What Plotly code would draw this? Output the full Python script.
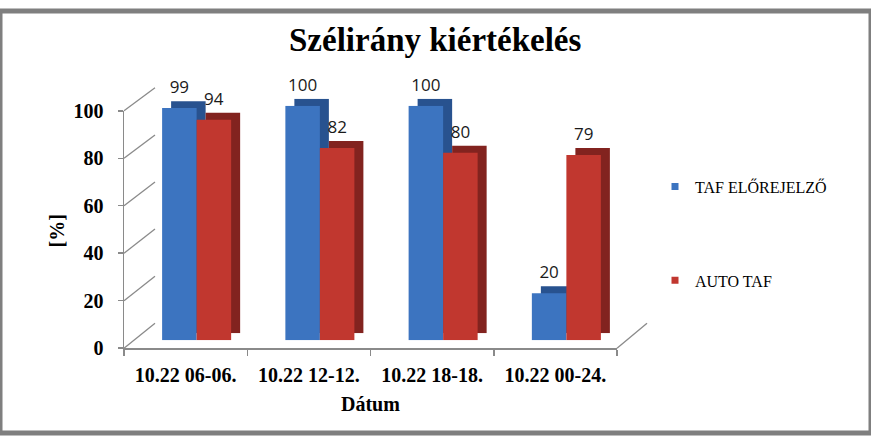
import plotly.graph_objects as go

categories = ["10.22 06-06.", "10.22 12-12.", "10.22 18-18.", "10.22 00-24."]
taf_elorejelzo = [99, 100, 100, 20]
auto_taf = [94, 82, 80, 79]
y_ticks = [0, 20, 40, 60, 80, 100]
series_names = ["TAF ELŐREJELZŐ", "AUTO TAF"]
title_text = "Szélirány kiértékelés"
x_title = "Dátum"
y_title = "[%]"

W, H = 871, 444
# effective vertical extent of the rendered paper in the screenshot
OFF_Y, H_EFF = 9, 423


def px(x):
    return x / W


def py(y):
    return 1 - (y - OFF_Y) / H_EFF


# pixel geometry of the pseudo-3D layout (x0,x1 left/right; y0 = value 0, y1 = value 100)
FRONT = (124, 617, 347, 109)   # front axes
BACK = (155, 647, 322, 86)     # back wall gridlines
BARF = (135, 628, 339, 104)    # bar front faces
BARB = (144, 637, 332, 97)     # bar depth (side/top faces)
LABL = (135, 628, 332, 97)     # value labels (above the top faces, centred on front faces)


def xdom(g):
    return [px(g[0]), px(g[1])]


def ydom(g):
    return [py(g[2]), py(g[3])]


def yval(g, v):
    return g[2] - (g[2] - g[3]) * v / 100.0


GRID = "#8a8a8a"
BLUE, BLUE_D = "#3C74C0", "#28528F"
RED, RED_D = "#C1372F", "#82231F"
SERIF = "Liberation Serif"

fig = go.Figure()

# invisible trace to define the front category axis
fig.add_trace(go.Scatter(x=categories, y=[None] * len(categories), xaxis="x", yaxis="y",
                         showlegend=False, hoverinfo="skip", mode="markers"))

# depth faces (drawn first, behind)
for vals, col in [(taf_elorejelzo, BLUE_D), (auto_taf, RED_D)]:
    fig.add_trace(go.Bar(x=categories, y=vals, xaxis="x3", yaxis="y3", marker=dict(color=col, line=dict(width=0)),
                         showlegend=False, hoverinfo="skip"))

# front faces
for i, (vals, col) in enumerate([(taf_elorejelzo, BLUE), (auto_taf, RED)]):
    fig.add_trace(go.Bar(x=categories, y=vals, xaxis="x4", yaxis="y4", name=series_names[i],
                         marker=dict(color=col, line=dict(width=0)), showlegend=False))

# value labels
for vals in [taf_elorejelzo, auto_taf]:
    fig.add_trace(go.Bar(x=categories, y=vals, xaxis="x5", yaxis="y5",
                         marker=dict(color="rgba(0,0,0,0)", line=dict(width=0)),
                         text=[str(v) for v in vals], textposition="outside", cliponaxis=False,
                         textfont=dict(family="Open Sans", size=17, color="#1a1a1a"),
                         showlegend=False, hoverinfo="skip"))

# legend entries (small square keys)
for i, col in enumerate([BLUE, RED]):
    fig.add_trace(go.Scatter(x=[None], y=[None], xaxis="x4", yaxis="y4", mode="markers", name=series_names[i],
                             marker=dict(symbol="square", size=7, color=col), legendgroup=f"g{i}"))

shapes = []
# slanted side-wall lines
for v in y_ticks:
    shapes.append(dict(type="line", xref="paper", yref="paper",
                       x0=px(FRONT[0]), y0=py(yval(FRONT, v)), x1=px(BACK[0]), y1=py(yval(BACK, v)),
                       line=dict(color=GRID, width=1.3), layer="below"))
# floor right edge
shapes.append(dict(type="line", xref="paper", yref="paper",
                   x0=px(FRONT[1]), y0=py(FRONT[2]), x1=px(BACK[1]), y1=py(BACK[2]),
                   line=dict(color=GRID, width=1.3), layer="below"))
# outer border
shapes.append(dict(type="rect", xref="paper", yref="paper", x0=0, y0=0, x1=1, y1=1,
                   line=dict(color="#7f7f7f", width=5), layer="above"))

axis_hidden = dict(visible=False)

fig.update_layout(
    width=W, height=H, autosize=False,
    margin=dict(l=0, r=0, t=0, b=0),
    paper_bgcolor="white", plot_bgcolor="rgba(0,0,0,0)",
    barmode="group", bargap=0.44, bargroupgap=0.0,
    showlegend=True,
    legend=dict(x=px(655), y=py(168), xanchor="left", yanchor="top",
                font=dict(family=SERIF, size=16, color="black"),
                traceorder="grouped", tracegroupgap=70, bgcolor="rgba(0,0,0,0)",
                itemwidth=30, itemsizing="trace"),
    xaxis=dict(domain=xdom(FRONT), type="category", range=[-0.5, 3.5], anchor="y",
               showline=True, linecolor=GRID, linewidth=1.5, ticks="outside", tickson="boundaries",
               ticklen=6, tickcolor=GRID, tickwidth=1.5, showgrid=False, zeroline=False,
               tickfont=dict(family=SERIF, size=20, color="black", weight="bold"),
               ticklabelstandoff=8, fixedrange=True),
    yaxis=dict(domain=ydom(FRONT), range=[0, 100], anchor="x", tickvals=y_ticks,
               showline=True, linecolor=GRID, linewidth=1.5, ticks="outside", ticklen=5,
               tickcolor=GRID, tickwidth=1.5, showgrid=False, zeroline=False,
               tickfont=dict(family=SERIF, size=20, color="black", weight="bold"),
               ticklabelstandoff=10, fixedrange=True),
    xaxis2=dict(domain=xdom(BACK), range=[0, 1], anchor="y2", visible=False),
    yaxis2=dict(domain=ydom(BACK), range=[0, 100], anchor="x2", tickvals=y_ticks,
                showgrid=True, gridcolor=GRID, gridwidth=1.3, showticklabels=False,
                showline=False, zeroline=False, ticks=""),
    xaxis3=dict(domain=xdom(BARB), type="category", range=[-0.5, 3.5], anchor="y3", **axis_hidden),
    yaxis3=dict(domain=ydom(BARB), range=[0, 100], anchor="x3", **axis_hidden),
    xaxis4=dict(domain=xdom(BARF), type="category", range=[-0.5, 3.5], anchor="y4", **axis_hidden),
    yaxis4=dict(domain=ydom(BARF), range=[0, 100], anchor="x4", **axis_hidden),
    xaxis5=dict(domain=xdom(LABL), type="category", range=[-0.5, 3.5], anchor="y5", **axis_hidden),
    yaxis5=dict(domain=ydom(LABL), range=[0, 100], anchor="x5", **axis_hidden),
    shapes=shapes,
    annotations=[
        dict(text=title_text, x=px(435), y=py(38), xref="paper", yref="paper", showarrow=False,
             xanchor="center", yanchor="middle",
             font=dict(family=SERIF, size=33, color="black", weight="bold")),
        dict(text=y_title, x=px(57), y=py(230), xref="paper", yref="paper", showarrow=False,
             xanchor="center", yanchor="middle",
             textangle=-90, font=dict(family=SERIF, size=20, color="black", weight="bold")),
        dict(text=x_title, x=px(370), y=py(403), xref="paper", yref="paper", showarrow=False,
             xanchor="center", yanchor="middle",
             font=dict(family=SERIF, size=20, color="black", weight="bold")),
    ],
)

fig.write_html("out.html",
               config={"displayModeBar": False, "responsive": False, "staticPlot": True},
               post_script="document.body.style.margin='0';document.body.style.overflow='hidden';")
